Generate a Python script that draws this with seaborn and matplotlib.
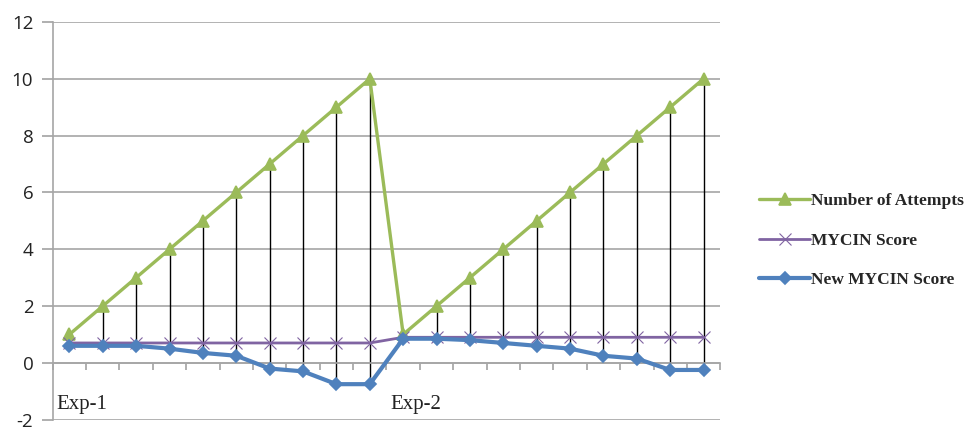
import matplotlib
matplotlib.use("Agg")
import matplotlib.pyplot as plt
import seaborn as sns
import pandas as pd
import numpy as np

# Two experiments of ten attempts each
experiments = ["Exp-1", "Exp-2"]
attempts_exp1 = [1, 2, 3, 4, 5, 6, 7, 8, 9, 10]
attempts_exp2 = [1, 2, 3, 4, 5, 6, 7, 8, 9, 10]
mycin_exp1 = [0.7, 0.7, 0.7, 0.7, 0.7, 0.7, 0.7, 0.7, 0.7, 0.7]
mycin_exp2 = [0.9, 0.9, 0.9, 0.9, 0.9, 0.9, 0.9, 0.9, 0.9, 0.9]
new_mycin_exp1 = [0.6, 0.6, 0.6, 0.5, 0.35, 0.25, -0.2, -0.3, -0.75, -0.75]
new_mycin_exp2 = [0.85, 0.85, 0.8, 0.7, 0.6, 0.5, 0.25, 0.15, -0.25, -0.25]
y_ticks = [-2, 0, 2, 4, 6, 8, 10, 12]

series_names = ["Number of Attempts", "MYCIN Score", "New MYCIN Score"]
colors = {"Number of Attempts": "#9BBB59",
          "MYCIN Score": "#8064A2",
          "New MYCIN Score": "#4F81BD"}
markers = {"Number of Attempts": "^", "MYCIN Score": "x", "New MYCIN Score": "D"}
widths = {"Number of Attempts": 2.4, "MYCIN Score": 2.0, "New MYCIN Score": 3.0}
msizes = {"Number of Attempts": 8, "MYCIN Score": 9, "New MYCIN Score": 6.5}

attempts = attempts_exp1 + attempts_exp2
mycin = mycin_exp1 + mycin_exp2
new_mycin = new_mycin_exp1 + new_mycin_exp2
idx = list(range(len(attempts)))

df = pd.DataFrame({
    "idx": idx * 3,
    "value": attempts + mycin + new_mycin,
    "series": [series_names[0]] * len(idx) + [series_names[1]] * len(idx)
              + [series_names[2]] * len(idx),
})

sns.set_theme(style="white")
plt.rcParams["font.family"] = ["Open Sans", "DejaVu Sans"]

fig = plt.figure(figsize=(9.76, 4.30), dpi=100)
ax = fig.add_axes([0.054, 0.024, 0.684, 0.925])

# High-low lines between the largest and smallest value at each attempt
wide = df.pivot(index="idx", columns="series", values="value")
ax.vlines(wide.index, wide.min(axis=1), wide.max(axis=1),
          color="black", lw=1.0, zorder=1)

for name in series_names:
    sub = df[df["series"] == name]
    sns.lineplot(data=sub, x="idx", y="value", ax=ax, color=colors[name],
                 lw=widths[name], marker=markers[name], markersize=msizes[name],
                 markeredgecolor=colors[name],
                 markeredgewidth=1.2 if name != "MYCIN Score" else 0.8,
                 label=name, zorder=3, legend=False)

ax.set_xlim(-0.5, len(idx) - 0.5)
ax.set_ylim(-2, 12)
ax.set_yticks(y_ticks)
ax.set_yticklabels([str(t) for t in y_ticks], fontsize=13.5, color="#222222")
ax.yaxis.grid(True, color="#A6A6A6", lw=1.2)
ax.set_axisbelow(True)
ax.tick_params(axis="y", which="major", direction="out", length=8,
               color="#A6A6A6", pad=6, left=True)

for side in ["top", "right"]:
    ax.spines[side].set_visible(False)
ax.spines["left"].set_color("#A6A6A6")
ax.spines["left"].set_linewidth(1.2)
ax.spines["bottom"].set_position(("data", 0))
ax.spines["bottom"].set_color("#A6A6A6")
ax.spines["bottom"].set_linewidth(1.2)

ax.set_xticks(np.arange(-0.5, len(idx), 1.0))
ax.set_xticklabels([])
ax.tick_params(axis="x", direction="out", length=5, color="#A6A6A6", bottom=True)
ax.set_xlabel("")
ax.set_ylabel("")

for k, label in enumerate(experiments):
    ax.text(k * len(attempts_exp1) - 0.38, -1.45, label, fontsize=15,
            family="Liberation Serif", ha="left", va="center", color="#222222")

handles, labels = ax.get_legend_handles_labels()
fig.legend(handles, labels, loc="center left", bbox_to_anchor=(0.778, 0.44),
           frameon=False, borderaxespad=0, borderpad=0,
           prop={"family": "Liberation Serif", "weight": "bold", "size": 12.5},
           handlelength=2.9, labelspacing=1.35, handletextpad=0.05)

fig.savefig("out.png", dpi=100)
